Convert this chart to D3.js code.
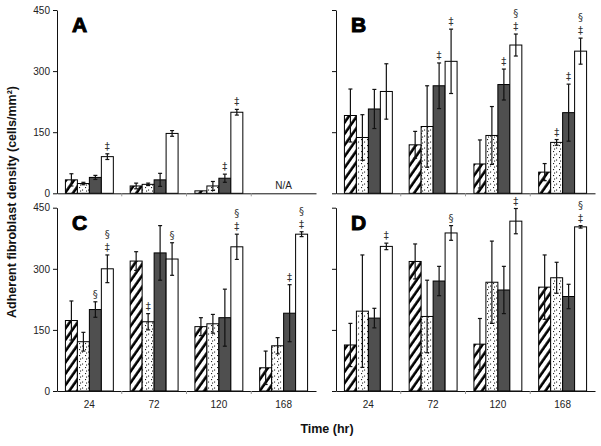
<!DOCTYPE html>
<html>
<head>
<meta charset="utf-8">
<script src="https://cdn.jsdelivr.net/npm/d3@7"></script>
<style>
  body { margin: 0; background: #fff; }
  svg { display: block; font-family: "Liberation Sans", Arial, sans-serif; }
</style>
</head>
<body>
<svg id="chart"></svg>
<script>
// time points and the four surface types (hatched, dotted, dark, white)
const groups = ["24", "72", "120", "168"];
const series = ["hatched", "dotted", "dark", "white"];
const yTicks = [0, 150, 300, 450];

// panel A (168 hr is N/A)
const aMeans = [[33, 24, 39, 90], [18, 22, 33, 147], [6, 18, 37, 199], null];
const aErrs = [[15, 3, 5, 7], [7, 3, 16, 7], [0, 11, 10, 7], null];
const aMarks = [["", "", "", "‡"], ["", "", "", ""], ["", "", "‡", "‡"], null];

// panel B
const bMeans = [[191, 137, 207, 250], [119, 164, 264, 324], [72, 142, 267, 364], [52, 125, 198, 349]];
const bErrs = [[65, 56, 48, 68], [33, 100, 56, 79], [59, 71, 38, 27], [21, 7, 70, 32]];
const bMarks = [["", "", "", ""], ["", "", "‡", "‡"], ["", "", "‡", "§‡"], ["", "‡", "‡", "§‡"]];

// panel C
const cMeans = [[173, 121, 200, 300], [319, 170, 339, 324], [158, 165, 180, 354], [57, 111, 191, 385]];
const cErrs = [[48, 23, 19, 34], [23, 20, 67, 40], [22, 23, 70, 31], [41, 20, 70, 6]];
const cMarks = [["", "", "§", "§‡"], ["", "‡", "", "§"], ["", "", "", "§‡"], ["", "", "‡", "§‡"]];

// panel D
const dMeans = [[113, 196, 179, 355], [318, 183, 270, 388], [115, 267, 248, 417], [255, 278, 232, 403]];
const dErrs = [[53, 138, 24, 8], [43, 89, 36, 18], [63, 101, 58, 31], [79, 38, 30, 3]];
const dMarks = [["", "", "", "‡"], ["", "", "", "§"], ["", "", "", "‡"], ["", "", "", "§‡"]];

const width = 601, height = 446;

const svg = d3.select("#chart")
  .attr("width", width)
  .attr("height", height)
  .attr("viewBox", [0, 0, width, height]);

// fill patterns
const defs = svg.append("defs");
const hatch = defs.append("pattern")
  .attr("id", "hatch")
  .attr("patternUnits", "userSpaceOnUse")
  .attr("width", 6.5).attr("height", 6.5)
  .attr("patternTransform", "rotate(35)");
hatch.append("rect").attr("width", 6.5).attr("height", 6.5).attr("fill", "#fff");
hatch.append("line")
  .attr("x1", 1.5).attr("x2", 1.5).attr("y1", -1).attr("y2", 8)
  .attr("stroke", "#000").attr("stroke-width", 2.6);

const dots = defs.append("pattern")
  .attr("id", "dots")
  .attr("patternUnits", "userSpaceOnUse")
  .attr("width", 6).attr("height", 6);
dots.append("rect").attr("width", 6).attr("height", 6).attr("fill", "#fff");
dots.selectAll("rect.d")
  .data([[1, 1], [4, 3.5], [2, 4.5]])
  .join("rect")
  .attr("class", "d")
  .attr("x", d => d[0]).attr("y", d => d[1])
  .attr("width", 1.1).attr("height", 1.1)
  .attr("fill", "#222");

const fills = {hatched: "url(#hatch)", dotted: "url(#dots)", dark: "#4f4f4f", white: "#fff"};

const panels = [
  {name: "A", means: aMeans, errs: aErrs, marks: aMarks, x0: 57, top: 10, bottom: 193.3, yLabels: true, xLabels: false},
  {name: "B", means: bMeans, errs: bErrs, marks: bMarks, x0: 336, top: 10, bottom: 193.3, yLabels: false, xLabels: false},
  {name: "C", means: cMeans, errs: cErrs, marks: cMarks, x0: 57, top: 207.7, bottom: 391, yLabels: true, xLabels: true},
  {name: "D", means: dMeans, errs: dErrs, marks: dMarks, x0: 336, top: 207.7, bottom: 391, yLabels: false, xLabels: true}
];

const panelWidth = 259;

panels.forEach(p => {
  const x = d3.scaleBand()
    .domain(groups)
    .range([p.x0, p.x0 + panelWidth])
    .paddingInner(0.26)
    .paddingOuter(0.13);
  const xs = d3.scaleBand()
    .domain(series)
    .range([0, x.bandwidth()]);
  const y = d3.scaleLinear().domain([0, 450]).range([p.bottom, p.top]);

  const g = svg.append("g");

  // rows of bars
  const rows = [];
  groups.forEach((grp, i) => {
    if (!p.means[i]) return;
    series.forEach((s, j) => {
      rows.push({grp, s, v: p.means[i][j], e: p.errs[i][j], m: p.marks[i][j]});
    });
  });

  g.selectAll("rect.bar")
    .data(rows)
    .join("rect")
    .attr("class", "bar")
    .attr("x", d => x(d.grp) + xs(d.s))
    .attr("y", d => y(d.v))
    .attr("width", xs.bandwidth())
    .attr("height", d => y(0) - y(d.v))
    .attr("fill", d => fills[d.s])
    .attr("stroke", "#000")
    .attr("stroke-width", 1);

  // error bars
  const eb = g.selectAll("g.err")
    .data(rows.filter(d => d.e > 0))
    .join("g")
    .attr("class", "err")
    .attr("stroke", "#111")
    .attr("stroke-width", 1.2);
  const cx = d => x(d.grp) + xs(d.s) + xs.bandwidth() / 2;
  eb.append("line")
    .attr("x1", cx).attr("x2", cx)
    .attr("y1", d => y(d.v + d.e))
    .attr("y2", d => y(Math.max(0, d.v - d.e)));
  eb.append("line")
    .attr("x1", d => cx(d) - 2).attr("x2", d => cx(d) + 2)
    .attr("y1", d => y(d.v + d.e)).attr("y2", d => y(d.v + d.e));
  eb.append("line")
    .attr("x1", d => cx(d) - 2).attr("x2", d => cx(d) + 2)
    .attr("y1", d => y(Math.max(0, d.v - d.e))).attr("y2", d => y(Math.max(0, d.v - d.e)));

  // significance marks (stacked, last char sits lowest)
  rows.filter(d => d.m).forEach(d => {
    const chars = Array.from(d.m).reverse();
    chars.forEach((c, k) => {
      g.append("text")
        .attr("x", cx(d))
        .attr("y", y(d.v + d.e) - 4 - k * 13)
        .attr("text-anchor", "middle")
        .attr("font-size", 10)
        .style("font-family", "'DejaVu Sans', sans-serif")
        .attr("fill", "#333")
        .text(c);
    });
  });

  // N/A for missing group
  groups.forEach((grp, i) => {
    if (p.means[i]) return;
    g.append("text")
      .attr("x", x(grp) + x.bandwidth() / 2)
      .attr("y", y(0) - 4)
      .attr("text-anchor", "middle")
      .attr("font-size", 10)
      .attr("fill", "#222")
      .text("N/A");
  });

  // y axis
  const yAxis = d3.axisLeft(y)
    .tickValues(yTicks)
    .tickSize(4)
    .tickSizeOuter(0)
    .tickPadding(3)
    .tickFormat(p.yLabels ? d3.format("d") : () => "");
  g.append("g")
    .attr("transform", `translate(${p.x0},0)`)
    .call(yAxis)
    .call(a => a.selectAll("text").attr("font-size", 10).attr("fill", "#222").style("font-family", "Liberation Sans, Arial, sans-serif"))
    .call(a => a.selectAll("line, path").attr("stroke", "#111"));

  // x axis: labels at group centres, small ticks between groups
  const xAxis = d3.axisBottom(x)
    .tickSize(0)
    .tickSizeOuter(0)
    .tickPadding(10)
    .tickFormat(p.xLabels ? d => d : () => "");
  g.append("g")
    .attr("transform", `translate(0,${y(0)})`)
    .call(xAxis)
    .call(a => a.selectAll("text").attr("font-size", 10).attr("fill", "#222").style("font-family", "Liberation Sans, Arial, sans-serif"))
    .call(a => a.select("path").attr("stroke", "#111"));

  const gap = x.step() * x.paddingInner() / 2;
  g.selectAll("line.xt")
    .data(groups.slice(1))
    .join("line")
    .attr("class", "xt")
    .attr("x1", d => x(d) - gap).attr("x2", d => x(d) - gap)
    .attr("y1", y(0)).attr("y2", y(0) + 3)
    .attr("stroke", "#999");

  // panel letter
  g.append("text")
    .attr("x", p.x0 + 15)
    .attr("y", p.top + 22)
    .attr("font-size", 21)
    .attr("font-weight", "bold")
    .attr("stroke", "#000")
    .attr("stroke-width", 1)
    .attr("fill", "#000")
    .text(p.name);
});

// axis titles
svg.append("text")
  .attr("transform", "translate(16,202) rotate(-90)")
  .attr("text-anchor", "middle")
  .attr("font-size", 12.5)
  .attr("font-weight", "bold")
  .attr("fill", "#111")
  .text("Adherent fibroblast density (cells/mm²)");

svg.append("text")
  .attr("x", 327)
  .attr("y", 433)
  .attr("text-anchor", "middle")
  .attr("font-size", 12.5)
  .attr("font-weight", "bold")
  .attr("fill", "#111")
  .text("Time (hr)");
</script>
</body>
</html>
